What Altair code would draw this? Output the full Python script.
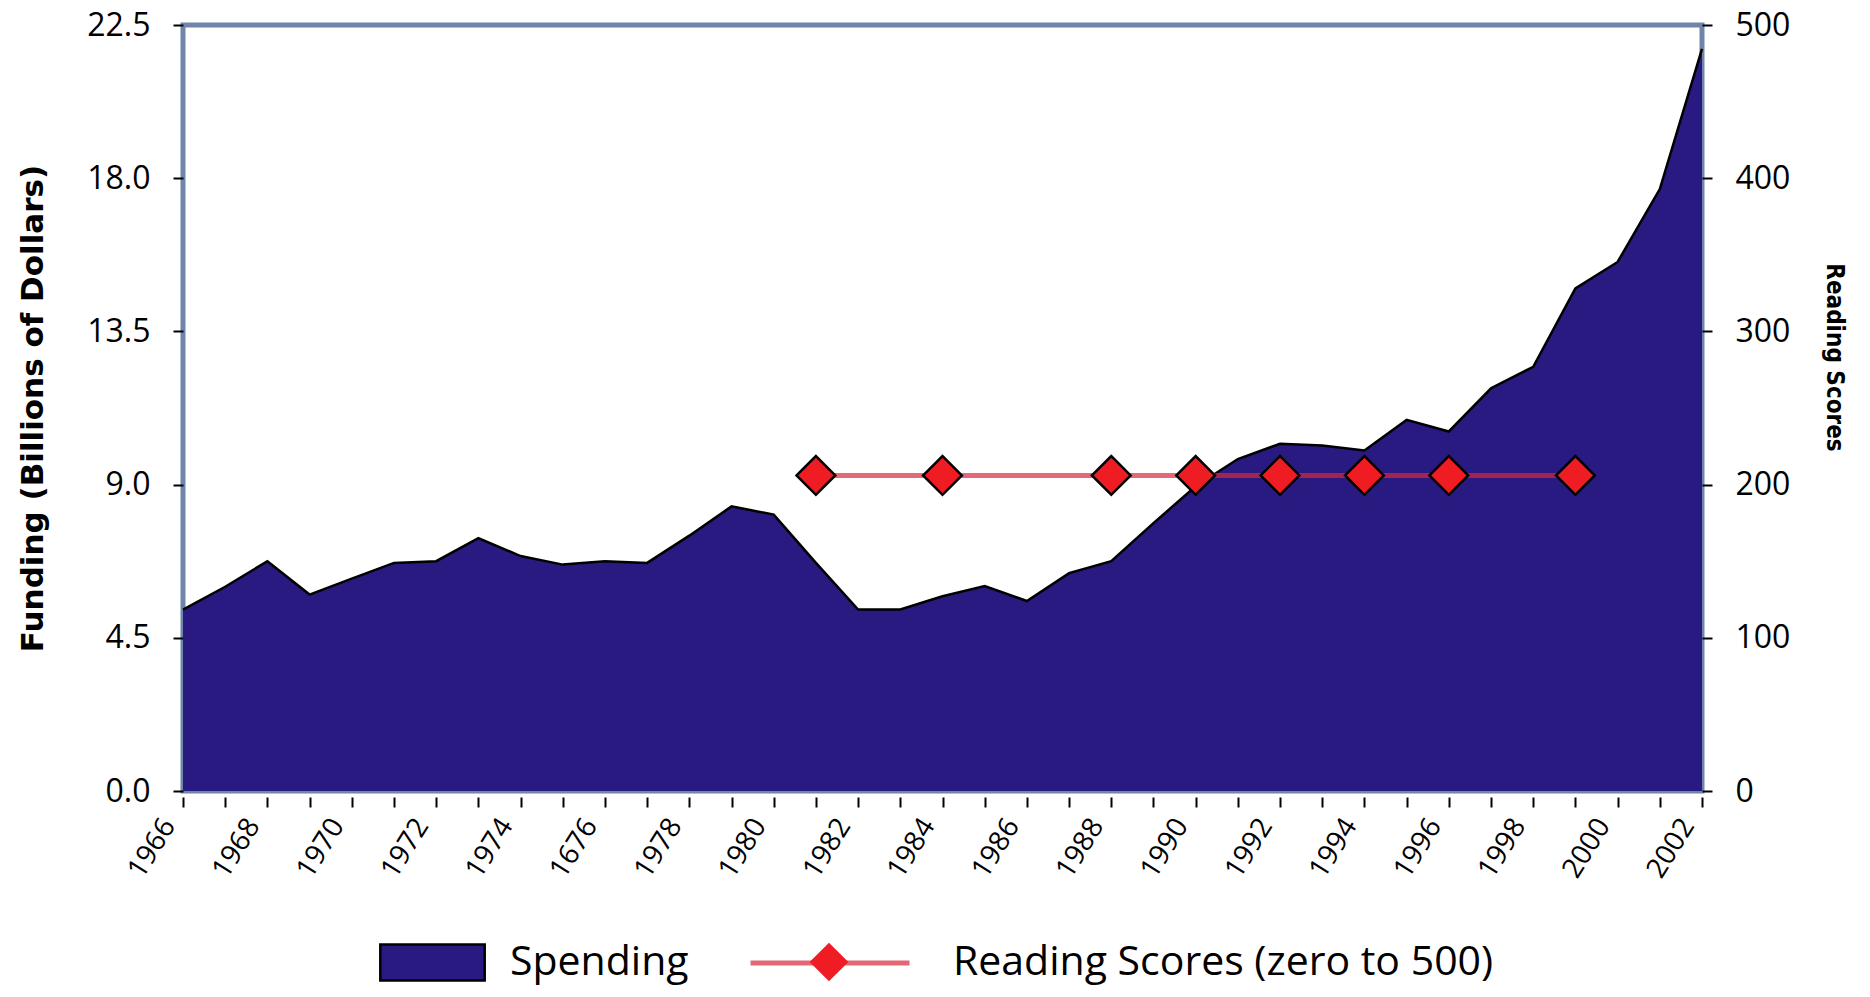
import altair as alt
import pandas as pd

# ---------------- data ----------------
years = list(range(1966, 2003))
spending = [5.33, 6.0, 6.75, 5.77, 6.24, 6.7, 6.75, 7.43, 6.9, 6.65,
            6.75, 6.7, 7.5, 8.36, 8.12, 6.7, 5.33, 5.33, 5.72, 6.02,
            5.58, 6.4, 6.75, 7.87, 8.95, 9.75, 10.2, 10.15, 10.0, 10.9,
            10.56, 11.83, 12.46, 14.76, 15.54, 17.68, 21.8]

score_years = [1981, 1984, 1988, 1990, 1992, 1994, 1996, 1999]
scores = [206, 206, 206, 206, 206, 206, 206, 206]

tick_label_years = [1966, 1968, 1970, 1972, 1974, 1976, 1978, 1980, 1982, 1984,
                    1986, 1988, 1990, 1992, 1994, 1996, 1998, 2000, 2002]
tick_label_text = ["1966", "1968", "1970", "1972", "1974", "1676", "1978", "1980", "1982", "1984",
                   "1986", "1988", "1990", "1992", "1994", "1996", "1998", "2000", "2002"]

left_ticks = [0, 4.5, 9.0, 13.5, 18.0, 22.5]
right_ticks = [0, 100, 200, 300, 400, 500]

SP_NAME = "Spending"
RS_NAME = "Reading Scores (zero to 500)"
MK_NAME = "marker"

NAVY = "#281a80"
PINK = "#d8283a"
RED = "#f01c24"
FRAME = "#6f86aa"
LFONT = "Open Sans"
TFONT = "DejaVu Sans"
NFONT = "Liberation Sans Narrow, DejaVu Sans Condensed, Liberation Sans"

df_sp = pd.DataFrame({"year": years, "spending": spending, "series": SP_NAME})
df_sc = pd.DataFrame({"year": score_years, "score": scores,
                      "line_series": RS_NAME, "pt_series": MK_NAME})

label_expr = ("[" + ",".join("'%s'" % t for t in tick_label_text) + "]"
              "[indexof([" + ",".join(str(y) for y in tick_label_years) + "], datum.value)] || ''")

x_enc = alt.X(
    "year:Q",
    scale=alt.Scale(domain=[1966, 2002], nice=False, zero=False),
    axis=alt.Axis(values=years, labelExpr=label_expr, labelAngle=-58,
                  labelAlign="right", labelBaseline="middle", labelPadding=14,
                  labelOffset=-14, labelFont=LFONT, labelFontSize=28,
                  labelColor="black", tickColor="black", tickSize=10, tickWidth=2,
                  domain=False, grid=False, offset=6, title=None, labelOverlap=False),
)

# ---------------- left: spending area ----------------
area = alt.Chart(df_sp).mark_area(interpolate="linear", opacity=1).encode(
    x=x_enc,
    y=alt.Y("spending:Q", scale=alt.Scale(domain=[0, 22.5], nice=False, zero=True),
            axis=alt.Axis(values=left_ticks, format=".1f", labelFont=LFONT, labelFontSize=32,
                          labelColor="black", labelPadding=23, tickColor="black",
                          tickSize=10, tickWidth=2, domain=False, grid=False,
                          title="Funding (Billions of Dollars)", titleFont=TFONT,
                          titleFontSize=31, titleFontWeight="bold", titleColor="black",
                          titlePadding=37)),
    fill=alt.Fill("series:N", scale=alt.Scale(domain=[SP_NAME], range=[NAVY]),
                  legend=alt.Legend(orient="none", legendX=212, legendY=900, title=None,
                                    symbolType="M-1.45,-0.5H1.45V0.5H-1.45Z",
                                    symbolSize=5184, symbolStrokeColor="black",
                                    symbolStrokeWidth=2.5, symbolOpacity=1,
                                    labelFont=LFONT, labelFontSize=41, labelColor="black",
                                    labelOffset=40, labelLimit=1000, padding=0)),
)

outline = alt.Chart(df_sp).mark_line(color="black", strokeWidth=2.5).encode(
    x="year:Q", y="spending:Q"
)

left = alt.layer(area, outline)

# ---------------- right: reading scores ----------------
line = alt.Chart(df_sc).mark_line(strokeWidth=5, opacity=0.7).encode(
    x="year:Q",
    y=alt.Y("score:Q", scale=alt.Scale(domain=[0, 500], nice=False, zero=True),
            axis=alt.Axis(orient="right", values=right_ticks, labelFont=LFONT,
                          labelFontSize=32, labelColor="black", labelPadding=23,
                          tickColor="black", tickSize=10, tickWidth=2, domain=False,
                          grid=False, title="Reading Scores", titleFont=NFONT,
                          titleFontSize=24, titleFontWeight="bold", titleColor="black",
                          titlePadding=32, titleY=332)),
    stroke=alt.Stroke("line_series:N", scale=alt.Scale(domain=[RS_NAME], range=[PINK]),
                      legend=alt.Legend(orient="none", legendX=565, legendY=856, title=None,
                                        symbolType="stroke", symbolSize=25281,
                                        symbolStrokeWidth=5, symbolOpacity=0.7,
                                        labelFont=LFONT, labelFontSize=41, labelColor="black",
                                        labelOffset=41, labelLimit=1000, padding=0)),
)

pts = alt.Chart(df_sc).mark_point(filled=True, size=1500, color=RED, fill=RED,
                                  stroke="black", strokeWidth=2.5, opacity=1).encode(
    x="year:Q",
    y="score:Q",
    shape=alt.Shape("pt_series:N", scale=alt.Scale(domain=[MK_NAME], range=["diamond"]),
                    legend=alt.Legend(orient="none", legendX=625, legendY=916, title=None,
                                      symbolSize=1500, symbolFillColor=RED,
                                      symbolStrokeColor="black", symbolStrokeWidth=2.5,
                                      symbolOpacity=1, labelExpr="''", labelFontSize=10,
                                      padding=0)),
)

right = alt.layer(line, pts)

chart = alt.layer(left, right).resolve_scale(
    y="independent"
).properties(
    width=1519,
    height=766,
    autosize=alt.AutoSizeParams(type="none"),
    padding={"left": 175, "top": 17, "right": 160, "bottom": 196},
    background="white",
).configure_view(
    stroke=FRAME, strokeWidth=5
)

chart.save("out.html", embed_options={"renderer": "svg", "actions": False})
